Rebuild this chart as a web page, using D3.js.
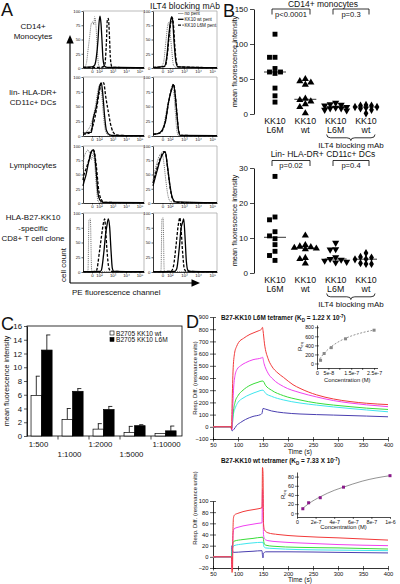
<!DOCTYPE html>
<html><head><meta charset="utf-8">
<script src="https://cdn.jsdelivr.net/npm/d3@7"></script>
<style>
body{margin:0;background:#fff;}
svg{display:block;font-family:"Liberation Sans",Arial,Helvetica,sans-serif;}
</style></head><body>
<svg id="c" width="400" height="584"></svg>
<script>
// ================= DATA =================
// ---- Panel A (flow histograms): [channel 0-1000, % of max] ----
const rowLabels = [["CD14+","Monocytes"],["lin- HLA-DR+","CD11c+ DCs"],["Lymphocytes"],["HLA-B27-KK10","-specific","CD8+ T cell clone"]];
const histXTickChannels = [148, 262, 484, 705, 926];
const histXTickLabels = ["0","10²","10³","10⁴","10⁵"];
const histYTicks = [0,25,50,75,100];
const pentLegend = ["no pent","KK10 wt pent","KK10 L6M pent"];
const columnTitle = "ILT4 blocking mAb";

const mono_none = [[0,1],[27,2],[55,8],[82,31],[109,55],[137,78],[164,81],[178,76],[191,90],[219,64],[235,31],[257,5],[280,1],[400,0.5],[1000,0.5]];
const mono_wt   = [[0,1],[150,2],[191,5],[219,19],[246,49],[262,78],[279,91],[295,78],[311,49],[328,16],[355,3],[400,1],[600,1],[1000,0.5]];
const mono_l6m  = [[0,1],[300,1],[355,5],[383,43],[399,84],[415,87],[432,60],[448,19],[470,3],[520,1],[1000,0.5]];
const monoB_none = [[0,1],[120,2],[165,10],[200,45],[230,75],[242,80],[260,70],[290,35],[320,5],[360,1],[1000,0.5]];
const monoB_wt   = [[0,1],[180,3],[216,20],[250,60],[280,86],[294,90],[310,80],[330,45],[360,10],[390,2],[1000,0.5]];
const monoB_l6m  = [[0,1],[190,3],[225,25],[260,65],[290,86],[304,88],[320,75],[340,40],[370,8],[400,2],[1000,0.5]];

const dc_none = [[0,3],[27,5],[137,22],[191,44],[219,61],[246,78],[273,87],[301,78],[328,44],[355,16],[383,5],[420,1],[1000,0.5]];
const dc_wt   = [[0,6],[27,5],[80,6],[137,6],[164,27],[219,50],[246,67],[273,84],[301,90],[328,67],[355,33],[383,10],[437,2],[500,1],[1000,0.5]];
const dc_l6m  = [[0,3],[100,5],[170,20],[219,44],[273,78],[301,90],[339,90],[372,67],[410,44],[448,22],[492,7],[546,2],[600,1],[1000,0.5]];
const dcB_none = [[0,2],[88,5],[165,17],[216,46],[268,69],[294,80],[320,77],[345,46],[371,11],[397,1],[1000,0.5]];
const dcB_wt   = [[0,3],[100,5],[191,23],[242,57],[294,80],[320,87],[345,71],[371,40],[397,11],[423,1],[1000,0.5]];
const dcB_l6m  = [[0,3],[110,5],[195,25],[245,58],[295,82],[322,88],[348,70],[374,38],[400,10],[430,1],[1000,0.5]];

const ly_none = [[0,60],[11,76],[55,90],[82,93],[109,87],[137,76],[164,87],[191,70],[219,29],[246,3],[273,1],[1000,0.5]];
const ly_wt   = [[0,30],[11,35],[55,52],[82,67],[109,79],[137,90],[164,93],[191,84],[219,52],[246,17],[273,6],[328,1],[1000,0.5]];
const ly_l6m  = [[0,40],[11,47],[55,61],[98,76],[137,90],[175,93],[219,64],[257,23],[301,6],[350,1],[1000,0.5]];
const lyB_none = [[0,40],[60,70],[110,85],[139,88],[170,70],[200,40],[240,10],[280,2],[1000,0.5]];
const lyB_wt   = [[0,30],[60,55],[120,78],[165,88],[191,90],[220,70],[260,35],[300,10],[350,2],[1000,0.5]];
const lyB_l6m  = [[0,35],[60,60],[120,80],[170,90],[200,85],[230,60],[270,25],[310,6],[360,1],[1000,0.5]];

const tc_none = [[0,0.5],[70,1],[82,3],[98,88],[120,90],[142,3],[160,1],[1000,0.5]];
const tc_wt   = [[0,0.5],[280,1],[301,3],[339,31],[372,65],[393,79],[415,90],[437,76],[459,37],[481,6],[503,1],[1000,0.5]];
const tc_l6m  = [[0,0.5],[200,1],[219,2],[273,37],[301,59],[339,85],[355,90],[372,70],[393,37],[426,6],[460,1],[1000,0.5]];
const tcB_none = [[0,0.5],[110,1],[125,3],[140,90],[158,92],[175,3],[192,1],[1000,0.5]];
const tcB_wt   = [[0,0.5],[340,1],[370,5],[410,40],[440,75],[465,85],[480,90],[500,60],[520,20],[545,3],[580,1],[1000,0.5]];
const tcB_l6m  = [[0,0.5],[280,1],[320,10],[360,45],[395,80],[420,92],[440,70],[465,30],[490,5],[520,1],[1000,0.5]];

// ---- Panel B (MFI scatter) ----
const bCategories = [["KK10","L6M"],["KK10","wt"],["KK10","L6M"],["KK10","wt"]];
const bBraceLabel = "ILT4 blocking mAb";
const monoTitle = "CD14+ monocytes";
const monoTicks = [0,50,100,150];
const monoPvals = ["p<0.0001","p=0.3"];
const mono_L6M    = [114, 81, 81, 65, 60, 60, 58, 37, 26, 17];
const mono_WT     = [50, 47, 45, 42, 22, 20, 18, 14, 10, 1];
const mono_L6Milt = [16, 14, 13, 12, 10, 9, 8, 8, 6, 5];
const mono_WTilt  = [13, 12, 12, 10, 10, 9, 8, 6, 1];
const dcTitle = "Lin- HLA-DR+ CD11c+ DCs";
const dcTicks = [0,10,20,30];
const dcPvals = ["p=0.02","p=0.4"];
const dcs_L6M    = [27.6, 16.0, 15.2, 11.8, 10.6, 9.8, 8.1, 6.2, 5.0, 3.6];
const dcs_WT     = [10.7, 8.0, 7.6, 7.4, 7.2, 7.0, 6.8, 4.3, 4.0, 2.7];
const dcs_L6Milt = [8.6, 6.8, 6.7, 4.5, 4.0, 3.8, 3.5, 3.2, 3.0];
const dcs_WTilt  = [5.7, 4.6, 4.4, 4.0, 3.9, 2.8, 2.6, 2.6];

// ---- Panel C (bars) ----
const dilutions = ["1:500","1:1000","1:2000","1:5000","1:10000"];
const cSeries = ["B2705 KK10 wt","B2705 KK10 L6M"];
const wtMean = [5.9, 2.4, 1.0, 0.5, 0.35];
const wtErr  = [2.8, 1.6, 0.8, 0.9, 0.0];
const l6mMean = [12.5, 6.5, 3.85, 1.5, 0.75];
const l6mErr  = [2.2, 0.4, 0.45, 0.15, 0.7];
const cYTicks = [0,2,4,6,8,10,12,14,16];

// ---- Panel D (SPR sensorgrams) [time s, RU] ----
const dXTicks = [50,100,150,200,250,300,350,400];
const dUpperYTicks = [-100,0,100,200,300,400,500,600,700,800,900];
const dLowerYTicks = [-20,0,20,40,60,80,100];
const l6m_red = [[50,0],[86,0],[87,-20],[88,150],[90,450],[93,600],[97,657],[101,690],[111,725],[124,758],[140,785],[147,800],[149,815],[150,790],[153,680],[160,560],[167,500],[180,440],[191,405],[210,345],[224,315],[257,262],[291,228],[324,207],[357,193],[400,182]];
const l6m_mag = [[50,0],[86,0],[88,-25],[89,100],[91,300],[94,420],[98,470],[105,500],[115,525],[130,550],[147,565],[149,570],[152,520],[160,440],[170,390],[191,330],[224,280],[257,245],[291,215],[324,195],[357,180],[400,165]];
const l6m_grn = [[50,0],[86,0],[88,-10],[90,100],[94,200],[100,255],[110,300],[124,340],[140,365],[148,375],[150,375],[155,340],[167,300],[191,255],[224,220],[257,195],[291,178],[324,165],[357,153],[400,142]];
const l6m_cyn = [[50,0],[86,0],[88,-10],[90,80],[95,160],[100,200],[110,235],[124,265],[140,290],[148,300],[150,300],[155,275],[167,250],[191,220],[224,195],[257,178],[291,163],[324,150],[357,138],[400,123]];
const l6m_blu = [[50,0],[86,0],[88,-33],[92,-20],[97,10],[105,35],[115,60],[130,85],[145,100],[148,110],[150,150],[155,145],[167,130],[191,115],[224,105],[257,100],[291,96],[324,92],[357,88],[400,82]];
const wt_red = [[50,0],[87,0],[88,-28],[89,-25],[90,50],[91,70],[93,75],[100,78],[120,83],[140,86],[148,88],[149,160],[150,150],[151,60],[153,48],[160,43],[180,40],[220,37],[300,34],[400,30]];
const wt_mag = [[50,0],[87,0],[88,-22],[90,40],[92,50],[100,53],[120,57],[140,60],[148,61],[149,120],[150,100],[151,40],[153,32],[160,29],[180,27],[220,25],[300,22],[400,20]];
const wt_grn = [[50,0],[87,0],[88,5],[90,25],[92,28],[110,31],[130,33],[148,35],[150,35],[152,25],[155,21],[170,19],[220,17],[300,16],[400,14]];
const wt_cyn = [[50,0],[87,0],[88,8],[90,18],[92,20],[110,23],[130,25],[148,26],[150,26],[152,18],[155,16],[170,15],[220,13],[300,12],[400,11]];
const wt_blu = [[50,0],[87,0],[88,20],[89,12],[91,8],[110,9],[130,10],[148,11],[149,2],[150,-2],[151,6],[155,9],[200,9],[300,8],[400,7]];
const sprColors = ["#f23a3a","#f040f0","#38dd38","#3ee6ee","#4a3fb0"];
// insets: concentration (M) vs Req
const l6mConc = [1.5625e-8, 3.125e-8, 6.25e-8, 1.25e-7, 2.5e-7];
const l6mReq  = [70, 220, 350, 545, 735];
const l6mFit  = [[1.2e-8,100],[2.5e-8,188],[5e-8,319],[7.5e-8,418],[1e-7,495],[1.5e-7,607],[2e-7,683],[2.5e-7,739]];
const l6mInsetXTicks = [0, 5e-8, 1.5e-7, 2.5e-7];
const l6mInsetXLabels = ["0","5e-8","1.5e-7","2.5e-7"];
const l6mInsetYTicks = [0,200,400,600,800];
const wtConc = [6.25e-8, 1.25e-7, 2.5e-7, 5e-7, 1e-6];
const wtReq  = [10, 23, 34, 57, 82];
const wtFit  = [[6.25e-8,11],[1.25e-7,21],[2.5e-7,36],[4e-7,50],[5e-7,57],[7e-7,70],[8.5e-7,77],[1e-6,82]];
const wtInsetXTicks = [0,2e-7,4e-7,6e-7,8e-7,1e-6];
const wtInsetXLabels = ["0","2e-7","4e-7","6e-7","8e-7","1e-6"];
const wtInsetYTicks = [0,20,40,60,80];

// ================= DRAW =================
const FONT = '"Liberation Sans", Arial, Helvetica, sans-serif';
const svg = d3.select("#c");
svg.append("rect").attr("width",400).attr("height",584).attr("fill","#fff");

function text(g,x,y,s,size,anchor,extra){
  const t=g.append("text").attr("x",x).attr("y",y).attr("font-size",size)
    .attr("text-anchor",anchor||"start").attr("font-family",FONT).attr("fill","#111").text(s);
  if(extra) Object.entries(extra).forEach(([k,v])=>t.attr(k,v));
  return t;
}
function vtext(g,x,y,s,size){
  return g.append("text").attr("transform",`translate(${x},${y}) rotate(-90)`)
    .attr("text-anchor","middle").attr("font-size",size).attr("font-family",FONT).attr("fill","#111").text(s);
}
function styleAxis(a,size,sw){
  a.selectAll("text").attr("font-size",size).attr("font-family",FONT).attr("fill","#111");
  a.select(".domain").attr("stroke","#000").attr("stroke-width",sw||0.8);
  a.selectAll(".tick line").attr("stroke","#000").attr("stroke-width",(sw||0.8)*0.8);
}

// ---------- Panel A ----------
const gA = svg.append("g");
text(gA,1,16,"A",18);
text(gA,185,8.5,columnTitle,8.5,"middle");
const A_COLS=[[83,144],[153,217]];
const A_ROWS=[[11,68],[77,136],[146,203],[213,272]];
const rowLabelY=[[28.5,38.5],[94.5,105],[167.5],[220,230.5,241]];
const histCurves=[
  [[mono_none,mono_wt,mono_l6m],[monoB_none,monoB_wt,monoB_l6m]],
  [[dc_none,dc_wt,dc_l6m],[dcB_none,dcB_wt,dcB_l6m]],
  [[ly_none,ly_wt,ly_l6m],[lyB_none,lyB_wt,lyB_l6m]],
  [[tc_none,tc_wt,tc_l6m],[tcB_none,tcB_wt,tcB_l6m]]
];
const aStyles=[{s:"#666",w:0.9,d:"1,0.9"},{s:"#000",w:1.3,d:null},{s:"#000",w:1.3,d:"3,1.6"}];
A_ROWS.forEach((ry,ri)=>{
  rowLabels[ri].forEach((l,li)=>text(gA,33,rowLabelY[ri][li],l,8,"middle"));
  A_COLS.forEach((cx,ci)=>{
    const xS=d3.scaleLinear().domain([0,1000]).range(cx);
    const yS=d3.scaleLinear().domain([0,100]).range([ry[1],ry[0]]);
    const g=gA.append("g");
    g.append("path").attr("d",`M${cx[0]},${ry[0]}H${cx[1]}V${ry[1]}`).attr("fill","none").attr("stroke","#aaa").attr("stroke-width",0.8);
    const ya=g.append("g").attr("transform",`translate(${cx[0]},0)`)
      .call(d3.axisLeft(yS).tickValues(histYTicks).tickSize(1.5).tickSizeOuter(0).tickPadding(1));
    const xa=g.append("g").attr("transform",`translate(0,${ry[1]})`)
      .call(d3.axisBottom(xS).tickValues(histXTickChannels).tickFormat((d,i)=>histXTickLabels[i]).tickSize(1.5).tickSizeOuter(0).tickPadding(0.5));
    styleAxis(ya,4.3,0.8); styleAxis(xa,4.3,0.8);
    const line=d3.line().x(d=>xS(d[0])).y(d=>yS(d[1])).curve(d3.curveMonotoneX);
    [0,2,1].forEach(k=>{
      const st=aStyles[k];
      g.append("path").attr("d",line(histCurves[ri][ci][k])).attr("fill","none")
        .attr("stroke",st.s).attr("stroke-width",st.w).attr("stroke-dasharray",st.d).attr("stroke-linejoin","round");
    });
    if(ri===0&&ci===1){
      pentLegend.forEach((l,k)=>{
        const y=15+k*5.8, st=aStyles[k];
        g.append("line").attr("x1",178).attr("x2",183.5).attr("y1",y-1.5).attr("y2",y-1.5)
          .attr("stroke",k===0?"#999":st.s).attr("stroke-width",st.w).attr("stroke-dasharray",k===0?null:st.d);
        text(g,184.5,y,l,4.6,"start");
      });
    }
  });
});
// big axis arrows
gA.append("line").attr("x1",70).attr("x2",70).attr("y1",283).attr("y2",41).attr("stroke","#000").attr("stroke-width",1.2);
gA.append("path").attr("d","M70,35 L66.3,43.5 L73.7,43.5Z").attr("fill","#000");
gA.append("line").attr("x1",70).attr("x2",193).attr("y1",283).attr("y2",283).attr("stroke","#000").attr("stroke-width",1.2);
gA.append("path").attr("d","M200,283 L191.5,279.3 L191.5,286.7Z").attr("fill","#000");
vtext(gA,66,265,"cell count",8);
text(gA,72,295,"PE fluorescence channel",8,"start");

// ---------- Panel B ----------
const gB = svg.append("g");
text(gB,223,17,"B",18);
const catX=d3.scalePoint().domain([0,1,2,3]).range([275,366]);
const symbols=[d3.symbolSquare,d3.symbolTriangle,d3.symbolTriangle,d3.symbolDiamond];
const symSize=[24,22,22,20];
const symRot=[0,0,180,0];
function brace(x0,x1,y,h){
  const xm=(x0+x1)/2, r=4;
  return `M${x0},${y} Q${x0},${y+h*0.55} ${x0+r},${y+h*0.55} L${xm-r},${y+h*0.55} Q${xm},${y+h*0.55} ${xm},${y+h} Q${xm},${y+h*0.55} ${xm+r},${y+h*0.55} L${x1-r},${y+h*0.55} Q${x1},${y+h*0.55} ${x1},${y}`;
}
function dodge(vals,yS,cx){
  const placed=[];
  const sorted=vals.slice().sort((a,b)=>b-a);
  const offs=[0,-5.5,5.5,-11,11];
  sorted.forEach(v=>{
    const y=yS(v);
    let best=null,bestD=-1;
    for(const o of offs){
      const x=cx+o;
      const dmin=placed.length?d3.min(placed,p=>Math.max(Math.abs(p.x-x)/5.5,Math.abs(p.y-y)/4.8)):9;
      if(dmin>=1){best=x;break;}
      if(dmin>bestD){bestD=dmin;best=x;}
    }
    placed.push({x:best,y,v});
  });
  return placed;
}
function scatterPanel(o){
  const g=gB.append("g");
  const yS=d3.scaleLinear().domain([0,o.ticks[o.ticks.length-1]]).range(o.yRange);
  const ya=g.append("g").attr("transform","translate(254,0)")
    .call(d3.axisLeft(yS).tickValues(o.ticks).tickSize(4).tickSizeOuter(0).tickPadding(2));
  styleAxis(ya,8,0.9);
  text(g,323,o.titleY,o.title,8.5,"middle");
  vtext(g,237,(o.yRange[0]+o.yRange[1])/2,"mean fluorescence intensity",7.4);
  // p brackets
  [[272,310],[333,369]].forEach(([a,b],k)=>{
    const y=o.pY;
    g.append("path").attr("d",`M${a},${y+5.5}V${y}H${b}V${y+5.5}`).attr("fill","none").attr("stroke","#000").attr("stroke-width",0.8);
    text(g,(a+b)/2,y+7.5,o.pvals[k],7.6,"middle");
  });
  o.groups.forEach((vals,i)=>{
    const cx=catX(i);
    const pts=dodge(vals,yS,cx);
    const sym=d3.symbol().type(symbols[i]).size(symSize[i]);
    pts.forEach(p=>{
      g.append("path").attr("d",sym()).attr("fill","#000")
        .attr("transform",`translate(${p.x},${p.y}) rotate(${symRot[i]})`);
    });
    const m=d3.median(vals);
    g.append("line").attr("x1",cx-11).attr("x2",cx+11).attr("y1",yS(m)).attr("y2",yS(m)).attr("stroke","#000").attr("stroke-width",0.8);
    bCategories[i].forEach((l,li)=>text(g,cx,o.catY+li*8.8,l,8.8,"middle"));
  });
  g.append("path").attr("d",brace(catX(2)-9,catX(3)+9,o.catY+10.5,6)).attr("fill","none").attr("stroke","#000").attr("stroke-width",0.8);
  text(g,351,o.catY+24,bBraceLabel,8,"middle");
}
scatterPanel({ticks:monoTicks,yRange:[114,9],title:monoTitle,titleY:7,pvals:monoPvals,pY:9,catY:124,
  groups:[mono_L6M,mono_WT,mono_L6Milt,mono_WTilt]});
scatterPanel({ticks:dcTicks,yRange:[273,168],title:dcTitle,titleY:157,pvals:dcPvals,pY:160.5,catY:283,
  groups:[dcs_L6M,dcs_WT,dcs_L6Milt,dcs_WTilt]});

// ---------- Panel C ----------
const gC=svg.append("g");
text(gC,1,330,"C",18);
const cX0=d3.scaleBand().domain(dilutions).range([27,182]);
const cY=d3.scaleLinear().domain([0,16]).range([436,326]);
const cX1=d3.scaleBand().domain(cSeries).range([cX0.bandwidth()*0.13,cX0.bandwidth()*0.81]);
const cya=gC.append("g").attr("transform","translate(27,0)")
  .call(d3.axisLeft(cY).tickValues(cYTicks).tickSize(3).tickSizeOuter(0).tickPadding(2));
styleAxis(cya,7.8,0.8);
gC.append("rect").attr("x",27).attr("y",326).attr("width",155).attr("height",110).attr("fill","none").attr("stroke","#000").attr("stroke-width",0.8);
dilutions.slice(1).forEach(d=>gC.append("line").attr("x1",cX0(d)).attr("x2",cX0(d)).attr("y1",436).attr("y2",439.5).attr("stroke","#000").attr("stroke-width",0.7));
dilutions.forEach((d,i)=>{
  [[wtMean,wtErr,"#fff"],[l6mMean,l6mErr,"#000"]].forEach(([m,e,f],k)=>{
    const x=cX0(d)+cX1(cSeries[k]), w=cX1.bandwidth();
    if(e[i]>0){
      gC.append("line").attr("x1",x+w/2).attr("x2",x+w/2).attr("y1",cY(m[i])).attr("y2",cY(m[i]+e[i])).attr("stroke","#000").attr("stroke-width",0.8);
      gC.append("line").attr("x1",x+w/2-0.5).attr("x2",x+w/2+3.5).attr("y1",cY(m[i]+e[i])).attr("y2",cY(m[i]+e[i])).attr("stroke","#000").attr("stroke-width",0.8);
    }
    gC.append("rect").attr("x",x).attr("y",cY(m[i])).attr("width",w).attr("height",436-cY(m[i]))
      .attr("fill",f).attr("stroke","#000").attr("stroke-width",0.7);
  });
  const cx=cX0(d)+cX0.bandwidth()/2-4;
  text(gC,i===4?cx+4:cx,i%2===0?447:457,d,7.8,"middle");
});
vtext(gC,9,381,"mean fluorescence intensity",7.3);
cSeries.forEach((s,k)=>{
  gC.append("rect").attr("x",110).attr("y",331+k*6.4).attr("width",4).attr("height",4)
    .attr("fill",k===0?"#fff":"#000").attr("stroke","#000").attr("stroke-width",0.6);
  text(gC,116,335.6+k*6.4,s,6.6,"start");
});

// ---------- Panel D ----------
const gD=svg.append("g");
text(gD,186,328,"D",18);
function titleD(g,y,pre,kd,exp){
  const t=g.append("text").attr("x",221).attr("y",y).attr("font-size",6.4).attr("font-weight","bold").attr("font-family",FONT).attr("fill","#111");
  t.append("tspan").text(pre+" (K");
  t.append("tspan").attr("font-size",4.5).attr("dy",1.5).text("D");
  t.append("tspan").attr("dy",-1.5).text(" = "+kd+" X 10");
  t.append("tspan").attr("font-size",4.5).attr("dy",-2.5).text(exp);
  t.append("tspan").attr("dy",2.5).text(")");
}
function sprPanel(o){
  const g=gD.append("g");
  const xS=d3.scaleLinear().domain([50,400]).range([213,388]);
  const yS=d3.scaleLinear().domain(o.yDomain).range(o.yRange);
  const xa=g.append("g").attr("transform",`translate(0,${o.yRange[0]})`)
    .call(d3.axisBottom(xS).tickValues(dXTicks).tickSize(2.5).tickSizeOuter(0).tickPadding(1.5));
  const ya=g.append("g").attr("transform","translate(213,0)")
    .call(d3.axisLeft(yS).tickValues(o.yTicks).tickSize(3).tickSizeOuter(0).tickPadding(1.5));
  styleAxis(xa,5.8,0.8); styleAxis(ya,5.8,0.8);
  ya.selectAll(".tick line").attr("x2",-3).attr("x1",3);
  xa.selectAll(".tick line").attr("y1",-2).attr("y2",2.5);
  const line=d3.line().x(d=>xS(d[0])).y(d=>yS(d[1])).curve(d3.curveMonotoneX);
  o.curves.slice().reverse().forEach((c,k)=>{
    g.append("path").attr("d",line(c)).attr("fill","none").attr("stroke",sprColors[o.curves.length-1-k]).attr("stroke-width",1);
  });
  titleD(g,o.titleY,o.title,o.kd,o.exp);
  vtext(g,197,o.ylabY,"Resp. Diff. (resonance units)",5.8);
  text(g,300,o.timeY,"Time (s)",6.6,"middle");
  // inset
  const ix=d3.scaleLinear().domain(o.inXDomain).range(o.inXRange);
  const iy=d3.scaleLinear().domain(o.inYDomain).range(o.inYRange);
  const ixa=g.append("g").attr("transform",`translate(0,${o.inYRange[0]})`)
    .call(d3.axisBottom(ix).tickValues(o.inXTicks).tickFormat((d,i)=>o.inXLabels[i]).tickSize(2).tickSizeOuter(0).tickPadding(1));
  const iya=g.append("g").attr("transform",`translate(${ix(0)},0)`)
    .call(d3.axisLeft(iy).tickValues(o.inYTicks).tickSize(2).tickSizeOuter(0).tickPadding(1));
  styleAxis(ixa,5.3,0.7); styleAxis(iya,5.3,0.7);
  if(o.inMinor) o.inMinor.forEach(v=>g.append("line").attr("x1",ix(v)).attr("x2",ix(v)).attr("y1",o.inYRange[0]).attr("y2",o.inYRange[0]+2).attr("stroke","#000").attr("stroke-width",0.6));
  iya.selectAll(".tick line").attr("x1",2);
  const fl=d3.line().x(d=>ix(d[0])).y(d=>iy(d[1])).curve(d3.curveMonotoneX);
  g.append("path").attr("d",fl(o.fit)).attr("fill","none").attr("stroke","#777").attr("stroke-width",0.8).attr("stroke-dasharray",o.fitDash);
  o.conc.forEach((c,i)=>g.append("rect").attr("x",ix(c)-1.5).attr("y",iy(o.req[i])-1.5).attr("width",3).attr("height",3).attr("fill",o.ptColor));
  const rl=g.append("text").attr("transform",`translate(${o.rX},${(o.inYRange[0]+o.inYRange[1])/2}) rotate(-90)`)
    .attr("text-anchor","middle").attr("font-size",6).attr("font-family",FONT).attr("fill","#111");
  rl.append("tspan").text("R");
  rl.append("tspan").attr("font-size",4.2).attr("dy",1.3).text("eq");
  text(g,(o.inXRange[0]+o.inXRange[1])/2,o.concY,"Concentration (M)",5.8,"middle");
}
sprPanel({yDomain:[-100,900],yRange:[439,317],yTicks:dUpperYTicks,
  curves:[l6m_red,l6m_mag,l6m_grn,l6m_cyn,l6m_blu],
  titleY:320,title:"B27-KK10 L6M tetramer",kd:"1.22",exp:"-7",ylabY:378,timeY:454,
  inXDomain:[0,2.65e-7],inXRange:[317,377.5],inYDomain:[-100,850],inYRange:[368,325],
  inXTicks:l6mInsetXTicks,inXLabels:l6mInsetXLabels,inYTicks:l6mInsetYTicks,inMinor:[1e-7,2e-7],
  fit:l6mFit,fitDash:"2,1.5",conc:l6mConc,req:l6mReq,ptColor:"#888",rX:302,concY:382});
sprPanel({yDomain:[-20,100],yRange:[568,501],yTicks:dLowerYTicks,
  curves:[wt_red,wt_mag,wt_grn,wt_cyn,wt_blu],
  titleY:463,title:"B27-KK10 wt tetramer",kd:"7.33",exp:"-7",ylabY:508,timeY:582,
  inXDomain:[0,1e-6],inXRange:[297,390],inYDomain:[-8,90],inYRange:[517,472],
  inXTicks:wtInsetXTicks,inXLabels:wtInsetXLabels,inYTicks:wtInsetYTicks,inMinor:null,
  fit:wtFit,fitDash:null,conc:wtConc,req:wtReq,ptColor:"#8a1a8a",rX:285,concY:529});
</script>
</body></html>
